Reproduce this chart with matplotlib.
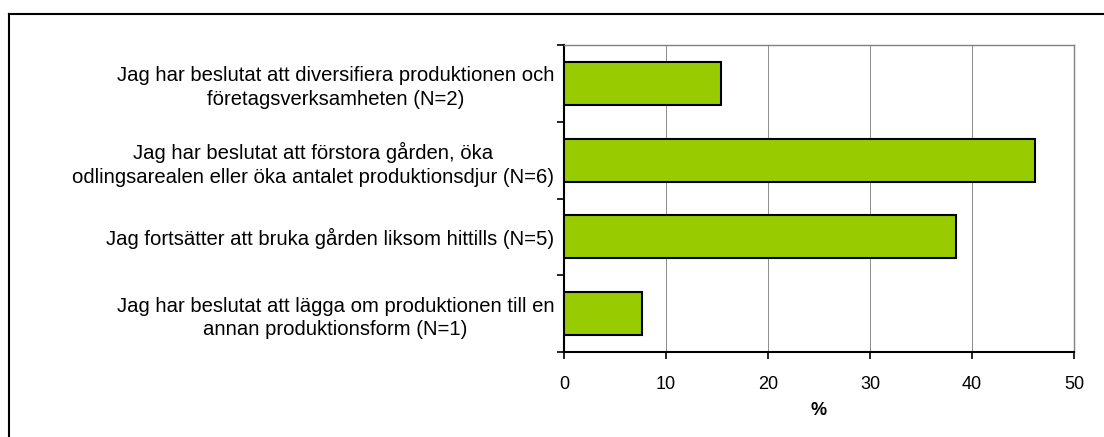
import matplotlib
matplotlib.use("Agg")
import matplotlib.pyplot as plt
from matplotlib.lines import Line2D

plt.rcParams["font.family"] = ["Liberation Sans", "DejaVu Sans"]

# data
CATEGORIES = [
    "Jag har beslutat att diversifiera produktionen och\nföretagsverksamheten (N=2)",
    "Jag har beslutat att förstora gården, öka\nodlingsarealen eller öka antalet produktionsdjur (N=6)",
    "Jag fortsätter att bruka gården liksom hittills (N=5)",
    "Jag har beslutat att lägga om produktionen till en\nannan produktionsform (N=1)",
]
PERCENT = [15.38, 46.15, 38.46, 7.69]
X_TICKS = [0, 10, 20, 30, 40, 50]

fig = plt.figure(figsize=(11.04, 4.37), dpi=100)
ax = fig.add_axes([0.5109, 0.1945, 0.4619, 0.7025])

ypos = list(range(len(CATEGORIES)))
ax.barh(ypos, PERCENT, height=0.56, color="#99cc00", edgecolor="black", linewidth=1.5, zorder=3)

ax.set_xlim(0, 50)
ax.set_ylim(len(CATEGORIES) - 0.5, -0.5)
ax.set_xticks(X_TICKS)
ax.set_xticklabels([str(t) for t in X_TICKS], fontsize=13)
ax.xaxis.grid(True, color="#8c8c8c", linewidth=0.7, zorder=0)
ax.set_xlabel("%", fontsize=13, fontweight="bold", labelpad=7)

# category boundaries as major ticks, labels on minor ticks
ax.set_yticks([i + 0.5 for i in range(-1, len(CATEGORIES))])
ax.set_yticklabels([])
ax.set_yticks(ypos, minor=True)
ax.set_yticklabels(CATEGORIES, minor=True, fontsize=14.6, multialignment="center",
                   linespacing=1.3)
ax.tick_params(axis="y", which="minor", length=0, pad=7)
ax.tick_params(axis="y", which="major", length=5, width=1.2, direction="out")
ax.tick_params(axis="x", length=5, width=1.2, direction="out", pad=12)

for s in ["left", "bottom"]:
    ax.spines[s].set_linewidth(1.5)
for s in ["top", "right"]:
    ax.spines[s].set_color("#808080")
    ax.spines[s].set_linewidth(1.0)

# outer chart border (top and left visible)
fig.add_artist(Line2D([9 / 1104, 1.0], [1 - 14 / 437, 1 - 14 / 437], color="black", lw=1.5,
                      transform=fig.transFigure))
fig.add_artist(Line2D([9 / 1104, 9 / 1104], [0.0, 1 - 14 / 437], color="black", lw=1.5,
                      transform=fig.transFigure))

fig.savefig("out.png", dpi=100)
